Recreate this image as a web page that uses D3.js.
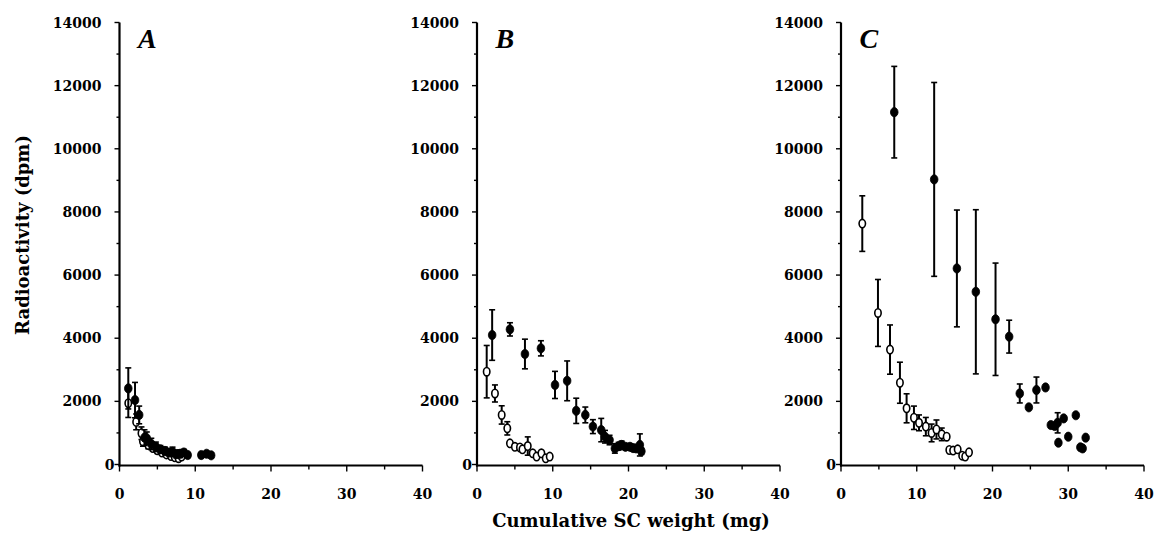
<!DOCTYPE html>
<head>
<style>
  body { margin: 0; background: #fff; }
  text { font-family: "DejaVu Serif", serif; font-weight: bold; fill: #000; }
</style>
</head>
<body>
<svg id="container" width="1155" height="546"></svg>

<script src="https://d3js.org/d3.v7.min.js"></script>
<script>
    // [cumulative SC weight (mg), radioactivity (dpm), error (dpm)]
    let openA = [[1.16,1940,450],[2.2,1350,250],[2.9,990,200],[3.1,730,150],[3.8,620,120],[4.4,520,100],
        [5.0,450,100],[5.6,380,80],[6.2,320,80],[6.8,270,80],[7.3,230,60],[7.8,200,60],[8.2,250,60]]
    let filledA = [[1.16,2410,650],[2.05,2040,560],[2.6,1570,280],[3.3,850,250],[3.6,830,200],[4.2,650,180],
        [4.8,560,150],[5.4,480,120],[6.0,430,120],[6.5,380,100],[7.0,400,150],[7.5,330,120],[8.0,340,120],
        [8.5,380,100],[9.0,300,80],[10.8,300,80],[11.5,340,80],[12.1,290,80]]

    let openB = [[1.28,2940,830],[2.37,2250,270],[3.26,1570,290],[4.0,1145,210],[4.35,670,0],[5.0,560,0],
        [5.67,540,60],[6.0,480,0],[6.7,585,290],[7.35,355,0],[7.87,250,0],[8.5,355,0],[9.07,195,0],[9.6,250,0]]
    let filledB = [[2.0,4100,800],[4.35,4280,210],[6.33,3500,470],[8.44,3680,240],[10.3,2520,430],[11.9,2650,630],
        [13.1,1700,400],[14.3,1570,250],[15.3,1200,220],[16.4,1090,370],[16.9,880,200],[17.5,775,150],
        [18.2,510,150],[18.7,580,120],[19.1,620,120],[19.6,560,100],[20.2,560,100],[20.6,520,100],
        [21.0,510,100],[21.5,620,350],[21.7,420,100]]

    let openC = [[2.81,7630,880],[4.88,4800,1060],[6.47,3640,780],[7.78,2590,650],[8.66,1780,460],[9.63,1480,370],
        [10.3,1320,250],[11.2,1200,290],[11.96,1000,280],[12.6,1110,300],[13.3,955,200],[13.95,880,0],
        [14.3,460,0],[14.8,440,0],[15.4,480,0],[16.0,280,0],[16.4,250,0],[16.9,385,0]]
    let filledC = [[7.03,11160,1450],[12.3,9030,3070],[15.3,6210,1850],[17.8,5470,2600],[20.4,4600,1780],
        [22.2,4050,520],[23.6,2250,300],[24.8,1810,0],[25.8,2360,410],[27.0,2440,0],[27.7,1250,0],
        [28.2,1220,0],[28.6,1320,320],[29.4,1460,0],[28.7,690,0],[30.0,880,0],[31.0,1560,0],
        [31.6,545,0],[31.9,510,0],[32.3,850,0]]

    let panelLabels = ["A", "B", "C"]
    let xTicks = [0, 10, 20, 30, 40]
    let yTicks = [0, 2000, 4000, 6000, 8000, 10000, 12000, 14000]

    let panels = [
        {left: 119.5, label: panelLabels[0], open: openA, filled: filledA},
        {left: 477, label: panelLabels[1], open: openB, filled: filledB},
        {left: 841, label: panelLabels[2], open: openC, filled: filledC}
    ]

    let svg = d3.select("#container")
    let plotTop = 22.5, plotBottom = 464.5, axisY = 465.5

    let yScale = d3.scaleLinear().domain([0, 14000]).range([plotBottom, plotTop])

    panels.forEach(p => {
        let xScale = d3.scaleLinear().domain([0, 40]).range([p.left, p.left + 303])
        let g = svg.append("g")

        // axes
        g.append("line").attr("x1", p.left).attr("x2", p.left)
            .attr("y1", plotTop).attr("y2", axisY + 1).attr("stroke", "black").attr("stroke-width", 2.2)
        g.append("line").attr("x1", p.left - 1).attr("x2", p.left + 303)
            .attr("y1", axisY).attr("y2", axisY).attr("stroke", "black").attr("stroke-width", 2)

        // y ticks every 1000
        d3.range(0, 14001, 1000).forEach(v => {
            let major = v % 2000 == 0
            g.append("line").attr("x1", p.left - (major ? 5 : 3)).attr("x2", p.left)
                .attr("y1", yScale(v)).attr("y2", yScale(v)).attr("stroke", "black").attr("stroke-width", 1.4)
        })
        // x ticks every 5
        d3.range(0, 41, 5).forEach(v => {
            let major = v % 10 == 0
            g.append("line").attr("x1", xScale(v)).attr("x2", xScale(v))
                .attr("y1", axisY).attr("y2", axisY + (major ? 6 : 4)).attr("stroke", "black").attr("stroke-width", 1.4)
        })

        g.selectAll(".ylab").data(yTicks).enter().append("text")
            .attr("x", d => d == 0 ? p.left - 5 : p.left - 18)
            .attr("y", d => yScale(d))
            .attr("dy", "0.36em")
            .attr("text-anchor", "end")
            .style("font-size", "14px")
            .text(d => d)

        g.selectAll(".xlab").data(xTicks).enter().append("text")
            .attr("x", d => xScale(d))
            .attr("y", 498.5)
            .attr("text-anchor", "middle")
            .style("font-size", "14px")
            .text(d => d)

        g.append("text").attr("x", p.left + 18.5).attr("y", 48)
            .style("font-family", "'Liberation Serif', serif")
            .style("font-style", "italic")
            .style("font-size", "28px")
            .text(p.label)

        let drawSeries = (data, filled) => {
            let bars = data.filter(d => d[2] > 0)
            g.selectAll(null).data(bars).enter().append("line")
                .attr("x1", d => xScale(d[0])).attr("x2", d => xScale(d[0]))
                .attr("y1", d => yScale(d[1] + d[2])).attr("y2", d => yScale(Math.max(0, d[1] - d[2])))
                .attr("stroke", "black").attr("stroke-width", 2)
            g.selectAll(null).data(bars.flatMap(d => [[d[0], d[1] + d[2]], [d[0], Math.max(0, d[1] - d[2])]]))
                .enter().append("line")
                .attr("x1", d => xScale(d[0]) - 3).attr("x2", d => xScale(d[0]) + 3)
                .attr("y1", d => yScale(d[1])).attr("y2", d => yScale(d[1]))
                .attr("stroke", "black").attr("stroke-width", 1.6)
            g.selectAll(null).data(data).enter().append("ellipse")
                .attr("cx", d => xScale(d[0])).attr("cy", d => yScale(d[1]))
                .attr("rx", filled ? 3.8 : 3.2).attr("ry", filled ? 4.6 : 4.2)
                .attr("fill", filled ? "black" : "white")
                .attr("stroke", "black").attr("stroke-width", filled ? 0.8 : 1.6)
        }
        drawSeries(p.open, false)
        drawSeries(p.filled, true)
    })

    svg.append("text")
        .attr("transform", "translate(29," + 235 + ") rotate(-90)")
        .attr("text-anchor", "middle")
        .style("font-size", "18px")
        .text("Radioactivity (dpm)")

    svg.append("text")
        .attr("x", 631).attr("y", 527)
        .attr("text-anchor", "middle")
        .style("font-size", "18px")
        .text("Cumulative SC weight (mg)")
</script>
</body>
